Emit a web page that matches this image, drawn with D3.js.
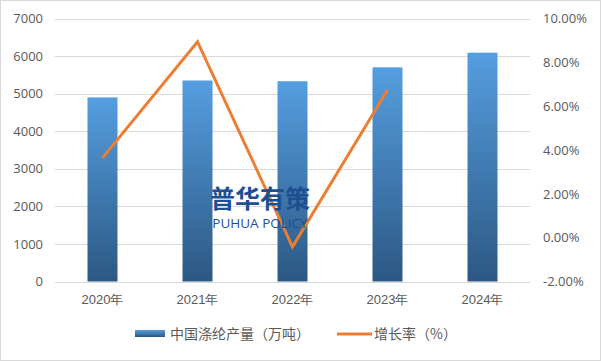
<!DOCTYPE html>
<html>
<head>
<meta charset="utf-8">
<script src="https://cdn.jsdelivr.net/npm/d3@7"></script>
<style>
  body { margin: 0; background: #fff; }
  svg { display: block; font-family: "Noto Sans CJK SC", "Microsoft YaHei", sans-serif; }
</style>
</head>
<body>
<svg id="chart"></svg>
<script>
// data
const years = ["2020年", "2021年", "2022年", "2023年", "2024年"];
const output = [4900, 5350, 5330, 5700, 6090];
const growth = [3.64, 8.94, -0.42, 6.74, null];
const leftTicks = [0, 1000, 2000, 3000, 4000, 5000, 6000, 7000];
const rightTicks = [-2, 0, 2, 4, 6, 8, 10];
const barName = "中国涤纶产量（万吨）";
const lineName = "增长率（%）";

const width = 601, height = 361;
const plot = { left: 55, right: 530, top: 18.5, bottom: 281.5 };

let svg = d3.select("#chart").attr("width", width).attr("height", height);

// outer border
svg.append("rect")
    .attr("x", 0.5).attr("y", 0.5)
    .attr("width", width - 1).attr("height", height - 1)
    .attr("fill", "#fff").attr("stroke", "#d9d9d9");

let defs = svg.append("defs");
let grad = defs.append("linearGradient")
    .attr("id", "barGrad").attr("x1", 0).attr("y1", 0).attr("x2", 0).attr("y2", 1);
grad.append("stop").attr("offset", "0%").attr("stop-color", "#559ee0");
grad.append("stop").attr("offset", "100%").attr("stop-color", "#2c5883");

let scX = d3.scaleBand().domain(years).range([plot.left, plot.right]);
let scY = d3.scaleLinear().domain([0, 7000]).range([plot.bottom, plot.top]);
let scY2 = d3.scaleLinear().domain([-2, 10]).range([plot.bottom, plot.top]);

// gridlines
svg.append("g")
    .selectAll("line")
    .data(leftTicks)
    .enter()
    .append("line")
    .attr("x1", plot.left).attr("x2", plot.right)
    .attr("y1", d => Math.round(scY(d)) + 0.5)
    .attr("y2", d => Math.round(scY(d)) + 0.5)
    .attr("stroke", "#d9d9d9").attr("stroke-width", 1);

// left axis labels
let axisL = d3.axisLeft(scY).tickValues(leftTicks).tickSize(0).tickPadding(12)
    .tickFormat(d => String(d));
let gL = svg.append("g").attr("transform", `translate(${plot.left}, 0)`).call(axisL);
gL.select(".domain").remove();
gL.selectAll("text").attr("fill", "#595959").style("font-size", "13px")
    .style("font-family", "'Open Sans', 'DejaVu Sans', sans-serif");

// right axis labels
let axisR = d3.axisRight(scY2).tickValues(rightTicks).tickSize(0).tickPadding(13)
    .tickFormat(d => d.toFixed(2) + "%");
let gR = svg.append("g").attr("transform", `translate(${plot.right}, 0)`).call(axisR);
gR.select(".domain").remove();
gR.selectAll("text").attr("fill", "#595959").style("font-size", "13px")
    .style("font-family", "'Open Sans', 'DejaVu Sans', sans-serif");

// x axis labels
let axisX = d3.axisBottom(scX).tickSize(0).tickPadding(13);
let gX = svg.append("g").attr("transform", `translate(0, ${plot.bottom})`).call(axisX);
gX.select(".domain").remove();
gX.selectAll("text").attr("fill", "#595959").style("font-size", "13px");

// bars
const barW = 30;
svg.append("g")
    .selectAll("rect")
    .data(output)
    .enter()
    .append("rect")
    .attr("x", (d, i) => scX(years[i]) + scX.bandwidth() / 2 - barW / 2)
    .attr("y", d => scY(d))
    .attr("width", barW)
    .attr("height", d => scY(0) - scY(d))
    .attr("fill", "url(#barGrad)");

// growth line
const line = d3.line()
    .defined(d => d != null)
    .x((d, i) => scX(years[i]) + scX.bandwidth() / 2)
    .y(d => scY2(d));

svg.append("path")
    .datum(growth)
    .attr("fill", "none")
    .attr("stroke", "#ed7d31")
    .attr("stroke-width", 3)
    .attr("stroke-linejoin", "miter")
    .attr("d", line);

// watermark
svg.append("text")
    .attr("x", 260).attr("y", 208)
    .attr("text-anchor", "middle")
    .attr("fill", "#1d4f91")
    .style("font-size", "25px").style("font-weight", "bold")
    .text("普华有策");
svg.append("text")
    .attr("x", 260).attr("y", 228)
    .attr("text-anchor", "middle")
    .attr("fill", "#1d4f91")
    .style("font-size", "13.5px")
    .style("font-family", "'Open Sans', sans-serif")
    .text("PUHUA POLICY");

// legend
let lg = svg.append("g").attr("transform", "translate(0, 334)");
lg.append("rect").attr("x", 135).attr("y", -4).attr("width", 30).attr("height", 7)
    .attr("fill", "url(#barGrad)");
lg.append("text").attr("x", 170).attr("y", 5).attr("fill", "#595959")
    .style("font-size", "14px").text(barName);
lg.append("line").attr("x1", 337).attr("x2", 372).attr("y1", 0).attr("y2", 0)
    .attr("stroke", "#ed7d31").attr("stroke-width", 3);
lg.append("text").attr("x", 374).attr("y", 5).attr("fill", "#595959")
    .style("font-size", "14px").text(lineName);
</script>
</body>
</html>
